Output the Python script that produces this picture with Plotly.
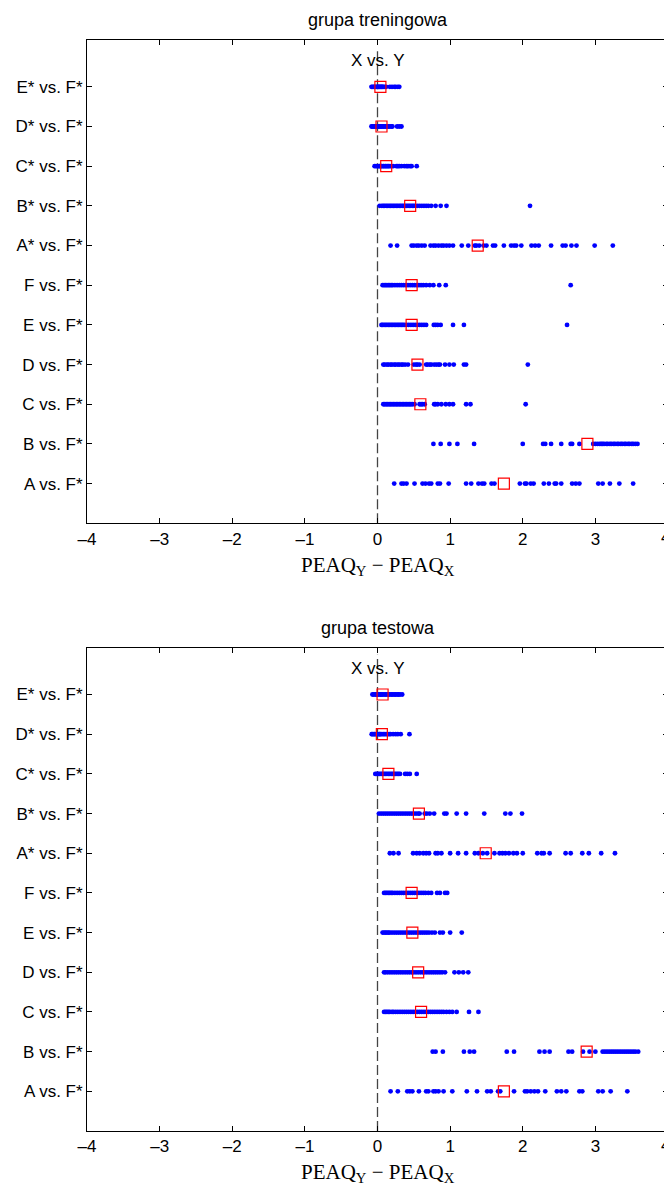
import plotly.graph_objects as go

categories = ["A vs. F*", "B vs. F*", "C vs. F*", "D vs. F*", "E vs. F*", "F vs. F*",
              "A* vs. F*", "B* vs. F*", "C* vs. F*", "D* vs. F*", "E* vs. F*"]
panel_titles = ["grupa treningowa", "grupa testowa"]
x_ticks = [-4, -3, -2, -1, 0, 1, 2, 3, 4]
x_ticktext = ["–4", "–3", "–2", "–1", "0", "1", "2", "3", "4"]

# ---- training group (grupa treningowa) ----
train_points = {
    "A vs. F*": [0.23, 0.33, 0.36, 0.40, 0.51, 0.62, 0.66, 0.71, 0.74, 0.83, 0.86, 0.98, 1.22, 1.29,
                 1.39, 1.44, 1.47, 1.57, 1.61, 1.96, 2.03, 2.05, 2.11, 2.15, 2.29, 2.36, 2.44, 2.46,
                 2.53, 2.68, 2.73, 2.78, 3.04, 3.10, 3.20, 3.33, 3.52],
    "B vs. F*": [0.77, 0.87, 0.99, 1.10, 1.33, 2.00, 2.28, 2.31, 2.39, 2.53, 2.66, 2.68, 2.78,
                 2.97, 3.00, 3.03, 3.06, 3.08, 3.10, 3.12, 3.15, 3.17, 3.20, 3.22, 3.25, 3.27,
                 3.30, 3.32, 3.35, 3.37, 3.40, 3.42, 3.45, 3.47, 3.50, 3.52, 3.55, 3.58],
    "C vs. F*": [0.08, 0.10, 0.12, 0.14, 0.16, 0.18, 0.20, 0.22, 0.24, 0.26, 0.28, 0.30, 0.32, 0.34,
                 0.36, 0.38, 0.40, 0.42, 0.44, 0.46, 0.48, 0.51, 0.58, 0.60, 0.62, 0.65,
                 0.78, 0.80, 0.83, 0.88, 0.94, 0.99, 1.04, 1.22, 1.28, 2.04],
    "D vs. F*": [0.08, 0.10, 0.13, 0.15, 0.18, 0.20, 0.23, 0.25, 0.28, 0.30, 0.33, 0.35, 0.38, 0.42,
                 0.50, 0.53, 0.55, 0.58, 0.67, 0.69, 0.72, 0.74, 0.78, 0.81, 0.84, 0.86, 0.93, 0.99,
                 1.05, 1.19, 1.22, 2.07],
    "E vs. F*": [0.055, 0.07, 0.09, 0.11, 0.13, 0.15, 0.17, 0.19, 0.21, 0.23, 0.25, 0.27, 0.29,
                 0.31, 0.33, 0.35, 0.37, 0.40, 0.43, 0.46, 0.49, 0.52, 0.55, 0.58, 0.61, 0.64, 0.67,
                 0.775, 0.80, 0.83, 0.87, 1.04, 1.19, 2.61],
    "F vs. F*": [0.07, 0.09, 0.11, 0.13, 0.15, 0.17, 0.19, 0.21, 0.24, 0.27, 0.30, 0.33, 0.36,
                 0.39, 0.42, 0.45, 0.48, 0.51, 0.54, 0.57, 0.60, 0.63, 0.67, 0.72, 0.77, 0.85,
                 0.94, 2.66],
    "A* vs. F*": [0.18, 0.27, 0.47, 0.50, 0.54, 0.57, 0.61, 0.65, 0.73, 0.77, 0.80, 0.84, 0.88,
                  0.91, 0.95, 0.99, 1.04, 1.16, 1.25, 1.34, 1.36, 1.40, 1.46, 1.50, 1.59, 1.62,
                  1.74, 1.84, 1.88, 1.91, 1.98, 2.12, 2.17, 2.22, 2.39, 2.55, 2.59, 2.67, 2.74,
                  2.99, 3.24],
    "B* vs. F*": [0.03, 0.06, 0.08, 0.10, 0.12, 0.14, 0.16, 0.18, 0.20, 0.22, 0.24, 0.26, 0.28,
                  0.30, 0.32, 0.34, 0.36, 0.38, 0.40, 0.42, 0.44, 0.46, 0.48, 0.50, 0.52, 0.55,
                  0.58, 0.61, 0.64, 0.67, 0.70, 0.74, 0.80, 0.87, 0.95, 2.10],
    "C* vs. F*": [-0.04, -0.02, 0.0, 0.02, 0.03, 0.05, 0.06, 0.08, 0.09, 0.11, 0.12, 0.14, 0.15,
                  0.17, 0.19, 0.215, 0.26, 0.28, 0.30, 0.33, 0.37, 0.40, 0.42, 0.45, 0.47, 0.54],
    "D* vs. F*": [-0.083, -0.07, -0.05, -0.04, -0.02, -0.01, 0.0, 0.01, 0.03, 0.04, 0.05, 0.06,
                  0.08, 0.09, 0.11, 0.13, 0.15, 0.17, 0.19, 0.206, 0.27, 0.30, 0.33],
    "E* vs. F*": [-0.083, -0.07, -0.05, -0.04, -0.03, -0.01, 0.0, 0.01, 0.02, 0.03, 0.04, 0.05,
                  0.06, 0.07, 0.08, 0.10, 0.12, 0.17, 0.20, 0.23, 0.25, 0.28, 0.30],
}
train_means = [1.74, 2.89, 0.59, 0.55, 0.47, 0.47, 1.38, 0.45, 0.12, 0.055, 0.04]

# ---- test group (grupa testowa) ----
test_points = {
    "A vs. F*": [0.18, 0.28, 0.41, 0.445, 0.48, 0.57, 0.67, 0.70, 0.77, 0.80, 0.84, 0.91, 1.03,
                 1.23, 1.37, 1.51, 1.56, 1.66, 1.69, 1.88, 2.03, 2.06, 2.11, 2.16, 2.21, 2.31,
                 2.47, 2.53, 2.60, 2.78, 2.82, 3.04, 3.10, 3.21, 3.44],
    "B vs. F*": [0.76, 0.80, 0.90, 1.19, 1.27, 1.33, 1.78, 1.88, 2.23, 2.30, 2.37, 2.63, 2.68,
                 2.83, 2.92, 3.00, 3.10, 3.13, 3.16, 3.19, 3.22, 3.25, 3.28, 3.31, 3.34, 3.37,
                 3.40, 3.43, 3.46, 3.49, 3.52, 3.55, 3.59],
    "C vs. F*": [0.09, 0.11, 0.13, 0.15, 0.17, 0.20, 0.22, 0.25, 0.28, 0.31, 0.34, 0.37, 0.40,
                 0.43, 0.46, 0.49, 0.52, 0.55, 0.58, 0.61, 0.64, 0.67, 0.70, 0.73, 0.76, 0.79,
                 0.82, 0.85, 0.88, 0.91, 0.95, 0.99, 1.03, 1.09, 1.26, 1.39],
    "D vs. F*": [0.09, 0.11, 0.14, 0.17, 0.20, 0.23, 0.26, 0.29, 0.32, 0.35, 0.38, 0.41, 0.44,
                 0.47, 0.50, 0.53, 0.56, 0.59, 0.62, 0.65, 0.68, 0.71, 0.74, 0.77, 0.80, 0.83,
                 0.86, 0.89, 0.93, 1.06, 1.12, 1.18, 1.25],
    "E vs. F*": [0.07, 0.09, 0.11, 0.13, 0.15, 0.17, 0.20, 0.23, 0.26, 0.29, 0.32, 0.35, 0.38,
                 0.41, 0.44, 0.47, 0.50, 0.53, 0.56, 0.59, 0.62, 0.65, 0.68, 0.71, 0.75, 0.79,
                 0.86, 0.90, 1.00, 1.16],
    "F vs. F*": [0.09, 0.11, 0.13, 0.15, 0.17, 0.19, 0.21, 0.24, 0.27, 0.30, 0.33, 0.36, 0.39,
                 0.42, 0.45, 0.48, 0.51, 0.54, 0.57, 0.60, 0.63, 0.66, 0.70, 0.74, 0.82, 0.86,
                 0.93, 0.96],
    "A* vs. F*": [0.17, 0.22, 0.29, 0.49, 0.54, 0.58, 0.63, 0.67, 0.71, 0.80, 0.83, 0.88, 1.00,
                  1.11, 1.22, 1.34, 1.39, 1.45, 1.51, 1.61, 1.68, 1.72, 1.76, 1.81, 1.87, 1.92,
                  2.00, 2.20, 2.26, 2.29, 2.37, 2.59, 2.66, 2.82, 2.91, 3.08, 3.27],
    "B* vs. F*": [0.02, 0.05, 0.08, 0.11, 0.14, 0.17, 0.20, 0.23, 0.26, 0.29, 0.32, 0.35, 0.38,
                  0.41, 0.44, 0.47, 0.50, 0.53, 0.56, 0.58, 0.65, 0.68, 0.72, 0.78, 0.92, 0.95,
                  1.09, 1.22, 1.47, 1.76, 1.83, 1.99],
    "C* vs. F*": [-0.03, -0.01, 0.01, 0.03, 0.05, 0.07, 0.09, 0.11, 0.13, 0.15, 0.17, 0.19, 0.21,
                  0.23, 0.25, 0.27, 0.29, 0.31, 0.38, 0.41, 0.445, 0.54],
    "D* vs. F*": [-0.08, -0.07, -0.05, -0.04, -0.02, -0.01, 0.0, 0.02, 0.03, 0.04, 0.06, 0.08,
                  0.10, 0.12, 0.14, 0.16, 0.18, 0.215, 0.25, 0.28, 0.32, 0.44],
    "E* vs. F*": [-0.07, -0.05, -0.03, -0.01, 0.0, 0.02, 0.04, 0.05, 0.07, 0.09, 0.11, 0.13,
                  0.15, 0.17, 0.19, 0.21, 0.23, 0.25, 0.27, 0.29, 0.31, 0.34],
}
test_means = [1.74, 2.88, 0.60, 0.56, 0.48, 0.47, 1.49, 0.57, 0.15, 0.06, 0.07]

fig = go.Figure()

panels = [(train_points, train_means, "x", "y"), (test_points, test_means, "x2", "y2")]
for pts, means, xa, ya in panels:
    fig.add_trace(go.Scatter(x=[0, 0], y=[0, 12], mode="lines", xaxis=xa, yaxis=ya,
                             line=dict(color="#444444", width=1.3, dash="10px,4px"),
                             showlegend=False, hoverinfo="skip"))
    xs, ys = [], []
    for i, cat in enumerate(categories):
        xs += pts[cat]
        ys += [i + 1] * len(pts[cat])
    fig.add_trace(go.Scatter(x=xs, y=ys, mode="markers", xaxis=xa, yaxis=ya,
                             marker=dict(color="#0000ff", size=4.8, line=dict(width=0)),
                             showlegend=False, hoverinfo="skip"))
    fig.add_trace(go.Scatter(x=means, y=list(range(1, len(categories) + 1)), mode="markers",
                             xaxis=xa, yaxis=ya,
                             marker=dict(symbol="square-open", color="#ff0000", size=11,
                                         line=dict(width=1.2, color="#ff0000")),
                             showlegend=False, hoverinfo="skip"))

# the page body adds an 8px offset; size the figure to fill the rest of the window
OFF = 8
PW, PH = 672 - OFF, 1193 - 2 * OFF
# desired page positions of the plot frames
LEFT, RIGHT = 87, 668
TOP1, BOT1 = 40, 523.3
TOP2, BOT2 = 647.7, 1131
ML = LEFT - OFF
MR = PW - (RIGHT - OFF)
MT = TOP1 - OFF
MB = PH - (BOT2 - OFF)
plot_h = PH - MT - MB


def pf(page_y):
    return (BOT2 - page_y) / plot_h


def px(page_x):
    return (page_x - LEFT) / (RIGHT - LEFT)


sans = "Liberation Sans, Arial, Helvetica, sans-serif"
tick_font = dict(family=sans, size=17, color="#000000")
axis_common = dict(showline=True, linecolor="#000000", linewidth=1, mirror="ticks",
                   ticks="inside", ticklen=5, tickcolor="#000000", showgrid=False,
                   zeroline=False, tickfont=tick_font, automargin=False)

# last x tick label sits on the figure edge; it is drawn as an annotation so it is not dropped
shown_ticktext = x_ticktext[:-1] + [""]

fig.update_layout(
    width=PW, height=PH,
    margin=dict(l=ML, r=MR, t=MT, b=MB, autoexpand=False),
    paper_bgcolor="#ffffff", plot_bgcolor="#ffffff",
    xaxis=dict(domain=[0, 1], range=[-4, 4], tickvals=x_ticks, ticktext=shown_ticktext,
               anchor="y", **axis_common),
    yaxis=dict(domain=[pf(BOT1), 1], range=[0, 12.18], tickvals=list(range(1, 12)),
               ticktext=categories, anchor="x", **axis_common),
    xaxis2=dict(domain=[0, 1], range=[-4, 4], tickvals=x_ticks, ticktext=shown_ticktext,
                anchor="y2", **axis_common),
    yaxis2=dict(domain=[0, pf(TOP2)], range=[0, 12.18], tickvals=list(range(1, 12)),
                ticktext=categories, anchor="x2", **axis_common),
)

annots = []
title_pos = [20, 627.7]
xlabel_pos = [566, 1173]
bottoms = [BOT1, BOT2]
for k, (xr, yr) in enumerate([("x", "y"), ("x2", "y2")]):
    annots.append(dict(text=panel_titles[k], xref="paper", yref="paper", x=0.5, y=pf(title_pos[k]),
                       xanchor="center", yanchor="middle", showarrow=False,
                       font=dict(family=sans, size=18, color="#000")))
    annots.append(dict(text="X vs. Y", xref=xr, yref=yr, x=0, y=11.66,
                       xanchor="center", yanchor="middle", showarrow=False,
                       font=dict(family=sans, size=17, color="#000")))
    annots.append(dict(text="PEAQ<sub>Y</sub> − PEAQ<sub>X</sub>", xref=xr, yref="paper", x=0,
                       y=pf(xlabel_pos[k]), xanchor="center", yanchor="middle", showarrow=False,
                       font=dict(family="Liberation Serif, Times New Roman, serif", size=21,
                                 color="#000")))
    # right-most tick label ("4") at the right end of the x axis
    annots.append(dict(text=x_ticktext[-1], xref="paper", yref="paper", x=px(665),
                       y=pf(bottoms[k] + 14), xanchor="center", yanchor="middle",
                       showarrow=False, font=tick_font))
fig.update_layout(annotations=annots)

fig.write_html("out.html")
